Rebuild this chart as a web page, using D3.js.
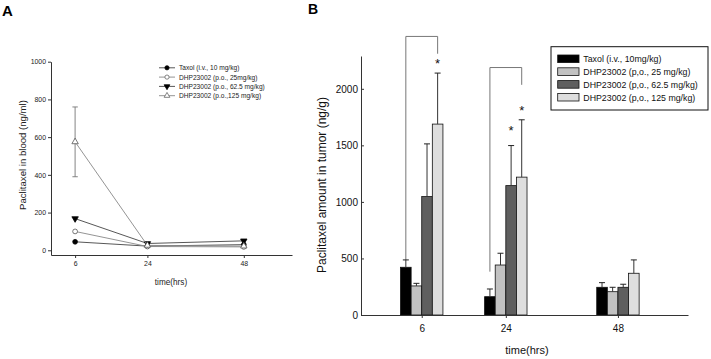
<!DOCTYPE html>
<html>
<head>
<meta charset="utf-8">
<script src="https://cdn.jsdelivr.net/npm/d3@7"></script>
<style>
  body { margin: 0; background: #fff; }
  svg { font-family: "Liberation Sans", Arial, sans-serif; }
  .domain { stroke: #333; }
</style>
</head>
<body>
<div class="container"></div>
<script>
// ---- panel A data (blood) ----
var timesA = [6, 24, 48],
	namesA = ['Taxol (i.v., 10 mg/kg)', 'DHP23002 (p.o., 25mg/kg)', 'DHP23002 (p.o., 62.5 mg/kg)', 'DHP23002 (p.o.,125 mg/kg)'],
	taxolA = [45, 22, 30],
	dhp25A = [100, 20, 18],
	dhp62A = [168, 36, 50],
	dhp125A = [575, 26, 22],
	errA = [[8, 3, 4], [6, 3, 3], [7, 4, 5], [185, 4, 4]],
	yTicksA = [0, 200, 400, 600, 800, 1000];

// ---- panel B data (tumor) ----
var timesB = [6, 24, 48],
	namesB = ['Taxol (i.v., 10mg/kg)', 'DHP23002 (p,o., 25 mg/kg)', 'DHP23002 (p,o., 62.5 mg/kg)', 'DHP23002 (p,o., 125 mg/kg)'],
	taxolB = [422, 162, 245],
	dhp25B = [257, 442, 206],
	dhp62B = [1047, 1144, 245],
	dhp125B = [1688, 1219, 369],
	errB = [[65, 68, 41], [23, 104, 39], [466, 354, 27], [451, 507, 118]],
	yTicksB = [0, 500, 1000, 1500, 2000],
	stars = [{t: 6, s: 3, v: 2242}, {t: 24, s: 2, v: 1655}, {t: 24, s: 3, v: 1832}],
	brackets = [{t: 6, left: 487, top: 2463, right: 2310}, {t: 24, left: 383, top: 2188, right: 2035}];

var seriesA = [taxolA, dhp25A, dhp62A, dhp125A],
	seriesB = [taxolB, dhp25B, dhp62B, dhp125B],
	barColors = ['#000000', '#c2c2c2', '#5f5f5f', '#dedede'];

function translate(x, y) {
	return 'translate(' + x + ',' + y + ')';
}

var svg = d3.select('.container').append('svg')
	.attr('width', 711)
	.attr('height', 359);

// panel letters
svg.append('text').attr('x', 2).attr('y', 16).attr('font-size', 15).attr('font-weight', 'bold').text('A');
svg.append('text').attr('x', 308).attr('y', 14).attr('font-size', 14).attr('font-weight', 'bold').text('B');

// ================= panel A =================
var xA = d3.scaleLinear().domain([0, 60]).range([51, 292]),
	yA = d3.scaleLinear().domain([-25, 1000]).range([255, 61.7]);

var gA = svg.append('g');

gA.append('g')
	.attr('transform', translate(0, 255))
	.call(d3.axisBottom(xA).tickValues(timesA).tickFormat(d3.format('d')).tickSize(3).tickPadding(3).tickSizeOuter(0))
	.call(function(g) { g.selectAll('text').attr('font-size', 6.9).attr('fill', '#222'); g.selectAll('line').attr('stroke', '#333'); });

gA.append('g')
	.attr('transform', translate(51, 0))
	.call(d3.axisLeft(yA).tickValues(yTicksA).tickFormat(d3.format('d')).tickSize(3).tickPadding(2).tickSizeOuter(0))
	.call(function(g) { g.selectAll('text').attr('font-size', 6.9).attr('fill', '#222'); g.selectAll('line').attr('stroke', '#333'); });

gA.append('text')
	.attr('transform', translate(25.5, 155) + ' rotate(-90)')
	.attr('text-anchor', 'middle')
	.attr('font-size', 9.6)
	.attr('fill', '#222')
	.text('Paclitaxel in blood (ng/ml)');

gA.append('text')
	.attr('x', 171).attr('y', 285)
	.attr('text-anchor', 'middle')
	.attr('font-size', 8.2)
	.attr('fill', '#222')
	.text('time(hrs)');

var lineA = d3.line()
	.x(function(d, i) { return xA(timesA[i]); })
	.y(function(d) { return yA(d); });

var symA = [
	{type: d3.symbolCircle, fill: '#000', rot: 0, stroke: '#444'},
	{type: d3.symbolCircle, fill: '#fff', rot: 0, stroke: '#888'},
	{type: d3.symbolTriangle, fill: '#000', rot: 180, stroke: '#444'},
	{type: d3.symbolTriangle, fill: '#fff', rot: 0, stroke: '#888'}
];

seriesA.forEach(function(vals, si) {
	gA.append('path')
		.datum(vals)
		.attr('fill', 'none')
		.attr('stroke', symA[si].stroke)
		.attr('stroke-width', 0.9)
		.attr('d', lineA);

	vals.forEach(function(v, i) {
		var e = errA[si][i], x = xA(timesA[i]);
		if (e > 10) {
			gA.append('line').attr('x1', x).attr('x2', x).attr('y1', yA(v - e)).attr('y2', yA(v + e)).attr('stroke', '#777').attr('stroke-width', 0.9);
			[v - e, v + e].forEach(function(c) {
				gA.append('line').attr('x1', x - 2.7).attr('x2', x + 2.7).attr('y1', yA(c)).attr('y2', yA(c)).attr('stroke', '#777').attr('stroke-width', 0.9);
			});
		}
	});

	gA.selectAll('.m' + si)
		.data(vals).enter()
		.append('path')
		.attr('transform', function(d, i) { return translate(xA(timesA[i]), yA(d)) + ' rotate(' + symA[si].rot + ')'; })
		.attr('d', d3.symbol().type(symA[si].type).size(18))
		.attr('fill', symA[si].fill)
		.attr('stroke', si % 2 ? '#555' : '#000')
		.attr('stroke-width', 0.8);
});

// legend A
var legA = gA.append('g');
namesA.forEach(function(n, i) {
	var y = 67.8 + i * 9.3;
	legA.append('line').attr('x1', 159).attr('x2', 175).attr('y1', y).attr('y2', y).attr('stroke', symA[i].stroke).attr('stroke-width', 0.9);
	legA.append('path')
		.attr('transform', translate(167, y) + ' rotate(' + symA[i].rot + ')')
		.attr('d', d3.symbol().type(symA[i].type).size(14))
		.attr('fill', symA[i].fill)
		.attr('stroke', i % 2 ? '#666' : '#000')
		.attr('stroke-width', 0.8);
	legA.append('text').attr('x', 179).attr('y', y + 2.4).attr('font-size', 6.6).attr('fill', '#222').text(n);
});

// ================= panel B =================
var xB = d3.scaleLinear().domain([-7, 63]).range([361, 688]),
	yB = d3.scaleLinear().domain([0, 2290]).range([315, 56]),
	inner = d3.scaleBand().domain([0, 1, 2, 3]).range([-21.2, 21.2]);

var gB = svg.append('g');

// brackets behind bars
brackets.forEach(function(b) {
	var xl = xB(b.t) + inner(0) + inner.bandwidth() / 2,
		xr = xB(b.t) + inner(3) + inner.bandwidth() / 2;
	gB.append('path')
		.attr('d', 'M' + xl + ',' + yB(b.left) + 'V' + yB(b.top) + 'H' + xr + 'V' + yB(b.right))
		.attr('fill', 'none')
		.attr('stroke', '#777')
		.attr('stroke-width', 1);
});

seriesB.forEach(function(vals, si) {
	gB.selectAll('.bar' + si)
		.data(vals).enter()
		.append('rect')
		.attr('x', function(d, i) { return xB(timesB[i]) + inner(si); })
		.attr('y', function(d) { return yB(d); })
		.attr('width', inner.bandwidth())
		.attr('height', function(d) { return yB(0) - yB(d); })
		.attr('fill', barColors[si])
		.attr('stroke', '#111')
		.attr('stroke-width', 0.8);

	vals.forEach(function(v, i) {
		var x = xB(timesB[i]) + inner(si) + inner.bandwidth() / 2,
			top = yB(v + errB[si][i]);
		gB.append('line').attr('x1', x).attr('x2', x).attr('y1', yB(v)).attr('y2', top).attr('stroke', '#333').attr('stroke-width', 1);
		gB.append('line').attr('x1', x - 3).attr('x2', x + 3).attr('y1', top).attr('y2', top).attr('stroke', '#222').attr('stroke-width', 1);
	});
});

stars.forEach(function(s) {
	gB.append('text')
		.attr('x', xB(s.t) + inner(s.s) + inner.bandwidth() / 2)
		.attr('y', yB(s.v) + 7)
		.attr('text-anchor', 'middle')
		.attr('font-size', 13)
		.attr('fill', '#111')
		.text('*');
});

gB.append('g')
	.attr('transform', translate(0, 315))
	.call(d3.axisBottom(xB).tickValues(timesB).tickFormat(d3.format('d')).tickSize(3).tickPadding(7).tickSizeOuter(0))
	.call(function(g) { g.selectAll('text').attr('font-size', 10).attr('fill', '#111'); g.selectAll('line').attr('stroke', '#333'); });

gB.append('g')
	.attr('transform', translate(361, 0))
	.call(d3.axisLeft(yB).tickValues(yTicksB).tickFormat(d3.format('d')).tickSizeInner(-3).tickSizeOuter(0).tickPadding(3))
	.call(function(g) { g.selectAll('text').attr('font-size', 10).attr('fill', '#111'); g.selectAll('line').attr('stroke', '#333'); });

gB.append('text')
	.attr('transform', translate(326, 185) + ' rotate(-90)')
	.attr('text-anchor', 'middle')
	.attr('font-size', 12)
	.attr('fill', '#111')
	.text('Paclitaxel amount in tumor (ng/g)');

gB.append('text')
	.attr('x', 527).attr('y', 354)
	.attr('text-anchor', 'middle')
	.attr('font-size', 11)
	.attr('fill', '#111')
	.text('time(hrs)');

// legend B
var legB = gB.append('g');
legB.append('rect').attr('x', 551).attr('y', 46.7).attr('width', 157).attr('height', 63.3)
	.attr('fill', '#fff').attr('stroke', '#111').attr('stroke-width', 1);
namesB.forEach(function(n, i) {
	var y = 58.8 + i * 12.8;
	legB.append('rect').attr('x', 557.7).attr('y', y - 3.8).attr('width', 21.3).attr('height', 7.6)
		.attr('fill', barColors[i]).attr('stroke', '#111').attr('stroke-width', 0.8);
	legB.append('text').attr('x', 583.3).attr('y', y + 3.3).attr('font-size', 8.8).attr('fill', '#111').text(n);
});
</script>
</body>
</html>
